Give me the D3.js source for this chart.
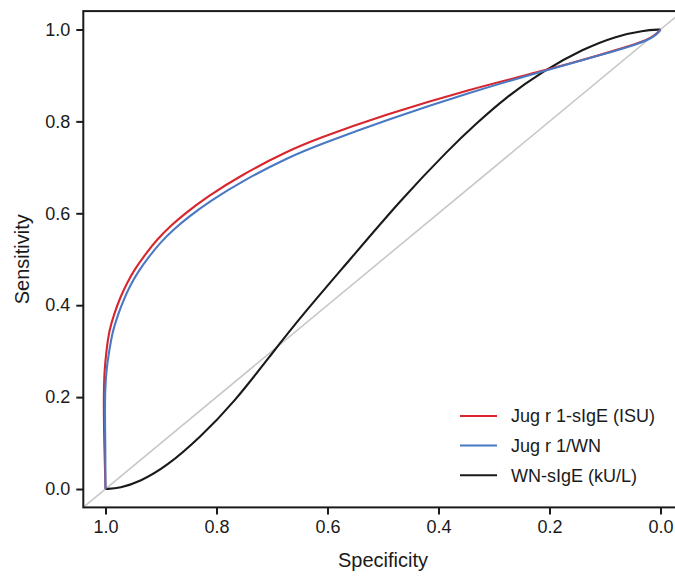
<!DOCTYPE html>
<html>
<head>
<meta charset="utf-8">
<script src="https://cdn.jsdelivr.net/npm/d3@7"></script>
<style>
  html, body { margin: 0; padding: 0; background: #fff; }
  svg { display: block; font-family: "Liberation Sans", Arial, sans-serif; }
</style>
</head>
<body>
<svg id="chart" width="675" height="577"></svg>
<script>
// ---- data ----
const seriesNames = ["Jug r 1-sIgE (ISU)", "Jug r 1/WN", "WN-sIgE (kU/L)"];
const seriesColors = ["#d7262e", "#4a79c4", "#1a1a1a"];

const redSpec = [1.0, 1.0022, 1.0034, 1.0020, 0.9982, 0.9933, 0.9838, 0.9739, 0.9613, 0.9477, 0.9279, 0.9063, 0.8829, 0.8568, 0.8177, 0.7550, 0.6735, 0.6195, 0.4995, 0.3432, 0.2112, 0.1090, 0.0310, 0.0171, 0.0068, 0.0];
const redSens = [0.0, 0.0958, 0.1937, 0.2590, 0.3025, 0.3460, 0.3830, 0.4157, 0.4483, 0.4777, 0.5114, 0.5441, 0.5724, 0.5996, 0.6355, 0.6834, 0.7345, 0.7617, 0.8135, 0.8701, 0.9097, 0.9445, 0.9735, 0.9826, 0.9902, 1.0];

const blueSpec = [1.0, 1.0002, 1.0016, 0.9987, 0.9932, 0.9870, 0.9773, 0.9672, 0.9548, 0.9413, 0.9216, 0.9004, 0.8773, 0.8512, 0.8123, 0.7499, 0.6690, 0.6153, 0.4964, 0.3418, 0.2112, 0.1090, 0.0306, 0.0166, 0.0063, 0.0];
const blueSens = [0.0, 0.0958, 0.1937, 0.2590, 0.3016, 0.3443, 0.3804, 0.4122, 0.4444, 0.4729, 0.5060, 0.5375, 0.5647, 0.5913, 0.6261, 0.6727, 0.7227, 0.7491, 0.8022, 0.8638, 0.9097, 0.9434, 0.9724, 0.9817, 0.9896, 1.0];

const blackSpec = [1.0, 0.974, 0.938, 0.890, 0.830, 0.770, 0.698, 0.650, 0.559, 0.469, 0.379, 0.334, 0.280, 0.211, 0.139, 0.079, 0.031, 0.0];
const blackSens = [0.0, 0.002, 0.016, 0.049, 0.112, 0.186, 0.298, 0.372, 0.500, 0.628, 0.742, 0.793, 0.851, 0.910, 0.958, 0.986, 0.998, 1.0];

const xTicks = [1.0, 0.8, 0.6, 0.4, 0.2, 0.0];
const yTicks = [0.0, 0.2, 0.4, 0.6, 0.8, 1.0];
const xTitle = "Specificity";
const yTitle = "Sensitivity";

// ---- chart ----
const svg = d3.select("#chart");
const x = d3.scaleLinear().domain([1.04, -0.04]).range([83.3, 682.7]);
const y = d3.scaleLinear().domain([-0.04, 1.04]).range([507.4, 11.1]);

// diagonal reference line
svg.append("line")
  .attr("x1", x(1.04)).attr("y1", y(-0.04))
  .attr("x2", x(-0.04)).attr("y2", y(1.04))
  .attr("stroke", "#c8c8c8").attr("stroke-width", 1.6);

const zip = (a, b) => a.map((v, k) => [v, b[k]]);
const line = d3.line().x(d => x(d[0])).y(d => y(d[1])).curve(d3.curveBasis);

[[blackSpec, blackSens, 2], [redSpec, redSens, 0], [blueSpec, blueSens, 1]].forEach(([s, v, i]) => {
  svg.append("path")
    .attr("d", line(zip(s, v)))
    .attr("fill", "none")
    .attr("stroke", seriesColors[i])
    .attr("stroke-width", 2.1)
    .attr("stroke-linejoin", "round");
});

// frame
svg.append("rect")
  .attr("x", x(1.04)).attr("y", y(1.04))
  .attr("width", x(-0.04) - x(1.04)).attr("height", y(-0.04) - y(1.04))
  .attr("fill", "none").attr("stroke", "#1a1a1a").attr("stroke-width", 2);

// axes
const xAxis = d3.axisBottom(x).tickValues(xTicks).tickFormat(d3.format(".1f")).tickSize(7).tickPadding(6);
const yAxis = d3.axisLeft(y).tickValues(yTicks).tickFormat(d3.format(".1f")).tickSize(7).tickPadding(6);

const gx = svg.append("g").attr("transform", `translate(0,${y(-0.04)})`).call(xAxis);
const gy = svg.append("g").attr("transform", `translate(${x(1.04)},0)`).call(yAxis);
[gx, gy].forEach(g => {
  g.select(".domain").remove();
  g.selectAll(".tick line").attr("stroke", "#1a1a1a").attr("stroke-width", 2);
  g.selectAll(".tick text").attr("fill", "#1a1a1a").style("font-size", "18px")
    .style("font-family", "'Liberation Sans', Arial, sans-serif");
});

// axis titles
svg.append("text")
  .attr("x", x(0.5)).attr("y", 567)
  .attr("text-anchor", "middle").attr("fill", "#1a1a1a")
  .style("font-size", "20px").text(xTitle);
svg.append("text")
  .attr("transform", `translate(29,${y(0.5)}) rotate(-90)`)
  .attr("text-anchor", "middle").attr("fill", "#1a1a1a")
  .style("font-size", "20px").text(yTitle);

// legend
const legendRows = [416, 445.5, 475.3];
seriesNames.forEach((name, i) => {
  svg.append("line")
    .attr("x1", 460).attr("x2", 497)
    .attr("y1", legendRows[i]).attr("y2", legendRows[i])
    .attr("stroke", seriesColors[i]).attr("stroke-width", 2);
  svg.append("text")
    .attr("x", 511).attr("y", legendRows[i])
    .attr("dy", "0.35em").attr("fill", "#1a1a1a")
    .style("font-size", "18px").text(name);
});
</script>
</body>
</html>
